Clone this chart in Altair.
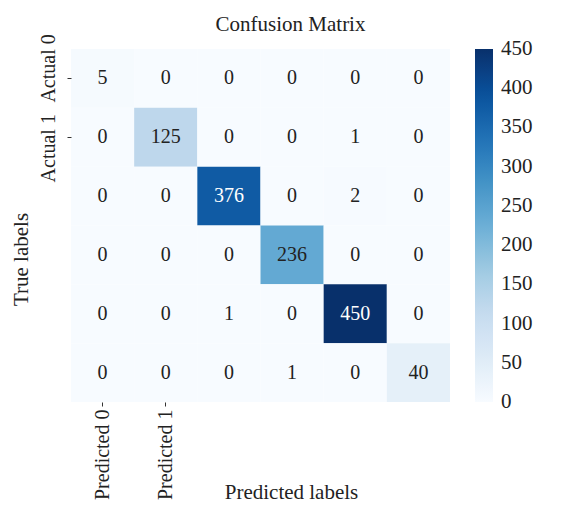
import altair as alt
import pandas as pd

actual = ["Actual 0", "Actual 1", "Actual 2", "Actual 3", "Actual 4", "Actual 5"]
predicted = ["Predicted 0", "Predicted 1", "Predicted 2", "Predicted 3", "Predicted 4", "Predicted 5"]
counts = [
    [5, 0, 0, 0, 0, 0],
    [0, 125, 0, 0, 1, 0],
    [0, 0, 376, 0, 2, 0],
    [0, 0, 0, 236, 0, 0],
    [0, 0, 1, 0, 450, 0],
    [0, 0, 0, 1, 0, 40],
]
shown_actual = ["Actual 0", "Actual 1"]
shown_predicted = ["Predicted 0", "Predicted 1"]
legend_ticks = [0, 50, 100, 150, 200, 250, 300, 350, 400, 450]
blues = ["#f7fbff", "#deebf7", "#c6dbef", "#9ecae1", "#6baed6",
         "#4292c6", "#2171b5", "#08519c", "#08306b"]

rows = []
for i, a in enumerate(actual):
    for j, p in enumerate(predicted):
        rows.append({"actual": a, "predicted": p, "count": counts[i][j]})
df = pd.DataFrame(rows)

FONT = "Liberation Serif"

x_enc = alt.X(
    "predicted:N", sort=predicted,
    scale=alt.Scale(paddingInner=0, paddingOuter=0),
    axis=alt.Axis(
        values=shown_predicted, labelAngle=-90, title="Predicted labels",
        domain=False, tickSize=4, tickColor="#333", labelPadding=3,
        titleX=220, titleY=96, titleBaseline="alphabetic", titleAlign="center",
        labelFont=FONT, titleFont=FONT, labelFontSize=20, titleFontSize=21,
        titleFontWeight="normal", labelColor="#222", titleColor="#222",
    ),
)
y_enc = alt.Y(
    "actual:N", sort=actual,
    scale=alt.Scale(paddingInner=0, paddingOuter=0),
    axis=alt.Axis(
        values=shown_actual, labelAngle=-90, title="True labels",
        domain=False, tickSize=4, tickColor="#333", labelPadding=9,
        labelOffset={"condition": {"test": "datum.value == 'Actual 0'", "value": -10}, "value": 11},
        titlePadding=7, titleY=210,
        labelFont=FONT, titleFont=FONT, labelFontSize=20, titleFontSize=21,
        titleFontWeight="normal", labelColor="#222", titleColor="#222",
    ),
)

heat = alt.Chart(df).mark_rect().encode(
    x=x_enc,
    y=y_enc,
    color=alt.Color(
        "count:Q",
        scale=alt.Scale(domain=[-0.01, 450.01], range=blues, nice=False),
        legend=alt.Legend(
            title=None, values=legend_ticks, gradientLength=353,
            gradientThickness=18, offset=25, padding=0, labelOffset=8,
            labelFontSize=21, labelFont=FONT,
            labelColor="#222", gradientStrokeWidth=0,
        ),
    ),
)

text = alt.Chart(df).mark_text(font=FONT, fontSize=20).encode(
    x=alt.X("predicted:N", sort=predicted),
    y=alt.Y("actual:N", sort=actual),
    text="count:Q",
    color=alt.condition(alt.datum.count > 300, alt.value("white"), alt.value("#222")),
)

chart = (heat + text).properties(
    width=379, height=353, background="white",
    padding={"left": 1, "top": 5, "right": 5, "bottom": 5},
    title=alt.TitleParams("Confusion Matrix", font=FONT, fontSize=21,
                          fontWeight="normal", dx=30, offset=-1, color="#222"),
).configure_view(stroke=None)

chart.save("out.html", embed_options={"renderer": "svg", "actions": False})
